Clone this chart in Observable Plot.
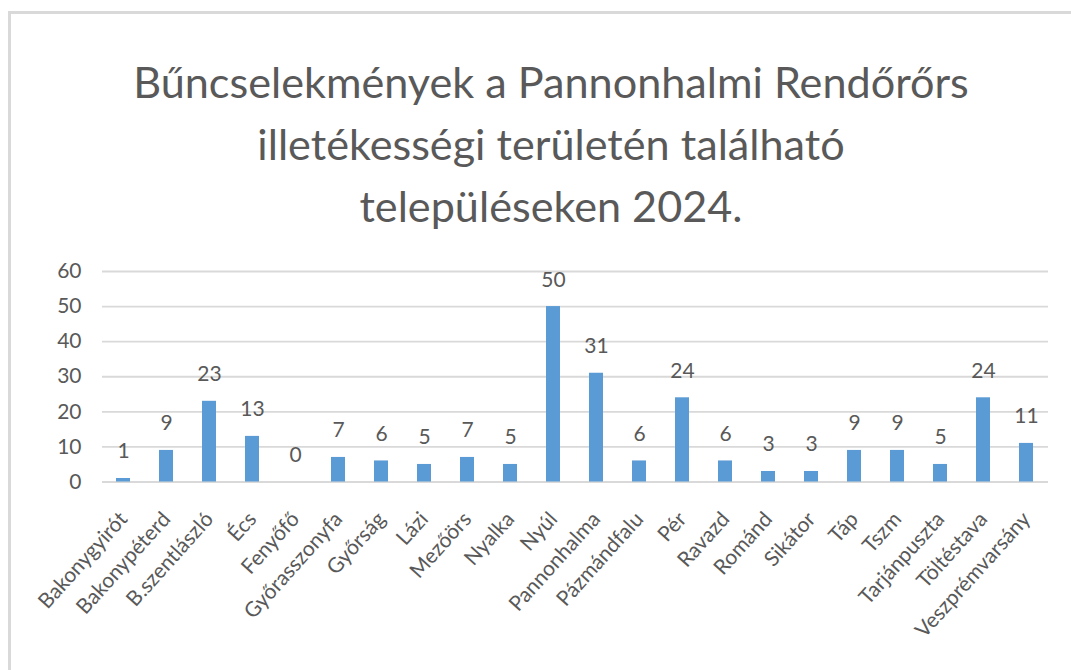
<!DOCTYPE html>
<html><head><meta charset="utf-8">
<script src="https://cdn.jsdelivr.net/npm/d3@7"></script>
<script src="https://cdn.jsdelivr.net/npm/@observablehq/plot@0.6"></script>
<style>
body{margin:0;background:#fff;}
#frame{position:absolute;left:8px;top:11px;width:1063px;height:659px;border-top:3px solid #d9d9d9;border-left:3px solid #d9d9d9;box-sizing:border-box;}
#title{position:absolute;left:0;top:50px;width:1102px;text-align:center;font-family:Lato;font-size:43.2px;line-height:62px;color:#595959;white-space:nowrap;}
#chart{position:absolute;left:0;top:240px;}
</style></head><body>
<div id="frame"></div>
<div id="title">Bűncselekmények a Pannonhalmi Rendőrőrs<br>illetékességi területén található<br>településeken 2024.</div>
<div id="chart"></div>
<script>
const categories = ["Bakonygyirót","Bakonypéterd","B.szentlászló","Écs","Fenyőfő","Győrasszonyfa","Győrság","Lázi","Mezőörs","Nyalka","Nyúl","Pannonhalma","Pázmándfalu","Pér","Ravazd","Románd","Sikátor","Táp","Tszm","Tarjánpuszta","Töltéstava","Veszprémvarsány"];
const values = [1,9,23,13,0,7,6,5,7,5,50,31,6,24,6,3,3,9,9,5,24,11];
const yTicks = [0,10,20,30,40,50,60];
const data = categories.map((c,i)=>({name:c, value: values[i]}));
const chart = Plot.plot({
  width:1071, height:430, marginLeft:102, marginRight:23, marginTop:31, marginBottom:188.5,
  style:{fontFamily:"Lato", color:"#595959", background:"transparent"},
  x:{domain:categories, paddingInner:0.674, paddingOuter:0.337, label:null, axis:null},
  y:{domain:[0,60], label:null, axis:null},
  marks:[
    Plot.ruleY(yTicks,{stroke:"#d9d9d9", strokeWidth:1.8}),
    Plot.axisY({ticks:yTicks, tickSize:0, tickPadding:21, fontSize:21, label:null, fill:"#595959"}),
    Plot.axisX({tickSize:0, tickPadding:38, tickRotate:-48, textAnchor:"end", lineAnchor:"bottom", dx:5, fontSize:21, label:null, fill:"#595959"}),
    Plot.barY(data,{x:"name", y:"value", fill:"#5b9bd5"}),
    Plot.text(data,{x:"name", y:"value", text: d=>String(d.value), lineAnchor:"bottom", dy:-20, fontSize:21, fill:"#595959"})
  ]
});
document.getElementById("chart").appendChild(chart);
</script>
</body></html>
